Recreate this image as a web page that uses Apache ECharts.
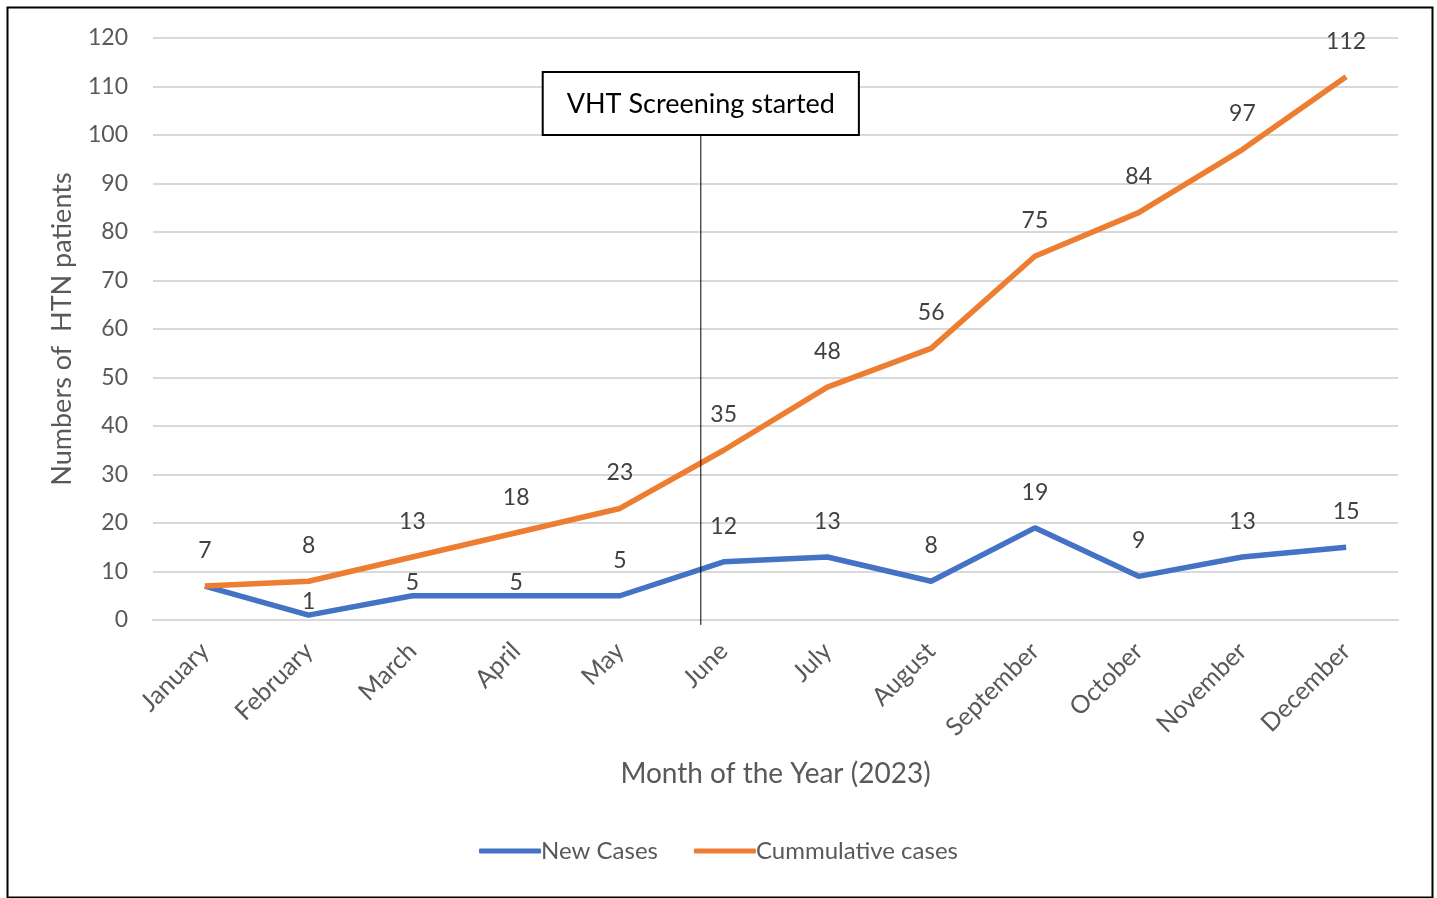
<!DOCTYPE html>
<html>
<head>
<meta charset="utf-8">
<script src="https://cdn.jsdelivr.net/npm/echarts@6/dist/echarts.min.js"></script>
<style>
  html, body { margin: 0; padding: 0; background: #fff; }
  #chart { width: 1437px; height: 898px; }
</style>
</head>
<body>
<div id="chart"></div>
<script>
// data
const months = ['January', 'February', 'March', 'April', 'May', 'June', 'July', 'August', 'September', 'October', 'November', 'December'];
const newCases = [7, 1, 5, 5, 5, 12, 13, 8, 19, 9, 13, 15];
const cumulative = [7, 8, 13, 18, 23, 35, 48, 56, 75, 84, 97, 112];
const yTicks = [0, 10, 20, 30, 40, 50, 60, 70, 80, 90, 100, 110, 120];
// where the screening marker sits, in category units (left edge of the axis = 0)
const screeningX = [5.28, 5.28];
const screeningY = [-1, 100];
const screeningText = 'VHT Screening started';

const font = 'Lato, "Open Sans", sans-serif';
const grey = '#595959';

let chart = echarts.init(document.getElementById('chart'));

// blue labels for Feb-Apr sit right on the line in the original
let blueData = newCases.map(function (v, i) {
  if (i === 0) return { value: v, label: { show: false } };
  if (i >= 1 && i <= 3) return { value: v, label: { distance: 2 } };
  return v;
});

let option = {
  animation: false,
  backgroundColor: '#fff',
  textStyle: { fontFamily: font },
  graphic: [{
    type: 'rect',
    left: 5, top: 5,
    shape: { width: 1425, height: 890 },
    style: { fill: 'none', stroke: '#000', lineWidth: 2 },
    silent: true
  }],
  grid: { left: 153, right: 39, top: 38, bottom: 278, containLabel: false },
  legend: {
    bottom: 30,
    left: 'center',
    data: ['New Cases', 'Cummulative cases'],
    icon: 'roundRect',
    itemWidth: 62,
    itemHeight: 5,
    itemGap: 36,
    textStyle: { color: grey, fontSize: 24, fontFamily: font, padding: [0, 0, 0, -5] }
  },
  xAxis: [{
    type: 'category',
    data: months,
    boundaryGap: true,
    name: 'Month of the Year (2023)',
    nameLocation: 'middle',
    nameGap: 140,
    nameTextStyle: { color: grey, fontSize: 28, fontFamily: font },
    axisLine: { show: true, lineStyle: { color: '#d9d9d9', width: 2 } },
    axisTick: { show: false },
    axisLabel: { color: grey, fontSize: 25, rotate: 45, margin: 27, interval: 0, fontFamily: font }
  }, {
    type: 'value',
    min: 0, max: 12,
    show: false
  }],
  yAxis: {
    type: 'value',
    min: yTicks[0],
    max: yTicks[yTicks.length - 1],
    interval: yTicks[1] - yTicks[0],
    name: 'Numbers of  HTN patients',
    nameLocation: 'middle',
    nameGap: 77,
    nameTextStyle: { color: grey, fontSize: 27, fontFamily: font },
    axisLine: { show: false },
    axisTick: { show: false },
    axisLabel: { color: grey, fontSize: 23, margin: 25, fontFamily: font },
    splitLine: { lineStyle: { color: '#d9d9d9', width: 2 } }
  },
  series: [{
    name: 'New Cases',
    type: 'line',
    data: blueData,
    showSymbol: true,
    symbol: 'circle',
    symbolSize: 0.1,
    lineStyle: { color: '#4472C4', width: 5.5 },
    itemStyle: { color: '#4472C4' },
    label: { show: true, position: 'top', distance: 24, color: '#404040', fontSize: 23, fontFamily: font },
    z: 3
  }, {
    name: 'Cummulative cases',
    type: 'line',
    data: cumulative,
    showSymbol: true,
    symbol: 'circle',
    symbolSize: 0.1,
    lineStyle: { color: '#ED7D31', width: 5.5 },
    itemStyle: { color: '#ED7D31' },
    label: { show: true, position: 'top', distance: 24, color: '#404040', fontSize: 23, fontFamily: font },
    z: 4
  }, {
    name: 'screening',
    type: 'line',
    xAxisIndex: 1,
    data: screeningX.map(function (x, i) { return [x, screeningY[i]]; }),
    clip: false,
    symbol: 'none',
    lineStyle: { color: '#000', width: 1 },
    label: { show: false },
    endLabel: {
      show: true,
      formatter: screeningText,
      position: 'top',
      offset: [-8, -1],
      color: '#000',
      fontSize: 27,
      fontFamily: font,
      backgroundColor: '#fff',
      borderColor: '#000',
      borderWidth: 2,
      padding: [18, 23, 16, 23],
      align: 'center',
      verticalAlign: 'bottom'
    },
    silent: true,
    z: 5
  }]
};

chart.setOption(option);
</script>
</body>
</html>
